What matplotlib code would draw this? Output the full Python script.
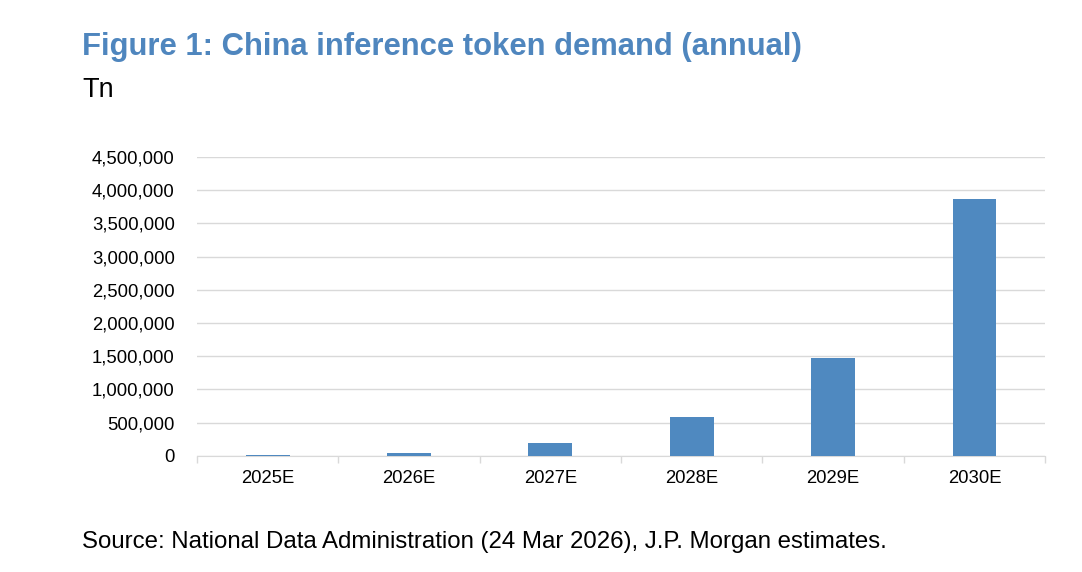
import numpy as np
import matplotlib.pyplot as plt
from matplotlib.ticker import FuncFormatter

years = ['2025E', '2026E', '2027E', '2028E', '2029E', '2030E']
tokens = [12000, 50000, 200000, 590000, 1480000, 3870000]

plt.rcParams['font.family'] = ['Liberation Sans', 'DejaVu Sans']

fig = plt.figure(figsize=(10.82, 5.72), dpi=100)
ax = fig.add_axes([0.182, 0.203, 0.784, 0.5225])

x = np.arange(len(years))
ax.bar(x, tokens, width=0.31, color='#4F89C0', zorder=3)

ax.set_xlim(-0.5, len(years) - 0.5)
ax.set_ylim(0, 4500000)
ax.set_yticks(np.arange(0, 4500001, 500000))
ax.yaxis.set_major_formatter(FuncFormatter(lambda v, p: f'{int(v):,}'))
ax.grid(axis='y', color='#D9D9D9', linewidth=1, zorder=0)

ax.set_xticks(x)
ax.set_xticklabels(years)
ax.set_xticks(np.arange(-0.5, len(years), 1), minor=True)
ax.tick_params(axis='x', which='major', length=0, pad=10, labelsize=13.3)
ax.tick_params(axis='x', which='minor', length=5, color='#D9D9D9', width=1)
ax.tick_params(axis='y', length=0, pad=16, labelsize=13.3)

for s in ['top', 'right', 'left']:
    ax.spines[s].set_visible(False)
ax.spines['bottom'].set_color('#D9D9D9')

fig.text(0.076, 0.917, 'Figure 1: China inference token demand (annual)',
         fontsize=22.3, fontweight='bold', color='#4F86BE', va='center')
fig.text(0.076, 0.843, 'Tn', fontsize=19.5, color='black', va='center')
fig.text(0.076, 0.053, 'Source: National Data Administration (24 Mar 2026), J.P. Morgan estimates.',
         fontsize=17.3, color='black', va='center')

fig.savefig('out.png', dpi=100)
